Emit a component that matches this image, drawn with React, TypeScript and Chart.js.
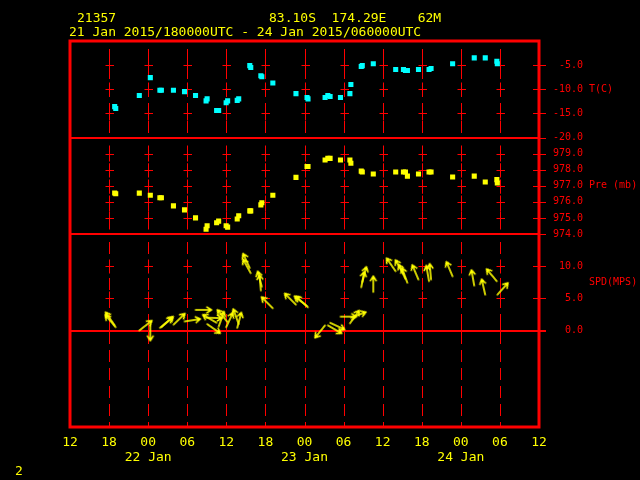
import React, { useEffect, useRef } from "react";
import { Chart, registerables } from "chart.js";

Chart.register(...registerables);

// ---- header text ----
const stationId = "21357";
const stationInfo = "83.10S  174.29E    62M";
const periodLabel = "21 Jan 2015/180000UTC - 24 Jan 2015/060000UTC";
const pageNumber = "2";

// ---- x axis: hours after 21 Jan 2015 12 UTC ----
const xTickHours = [0, 6, 12, 18, 24, 30, 36, 42, 48, 54, 60, 66, 72];
const xTickLabels = ["12", "18", "00", "06", "12", "18", "00", "06", "12", "18", "00", "06", "12"];
const dayLabels = ["22 Jan", "23 Jan", "24 Jan"];

// ---- y axes ----
const tempRange = [-20, 0];
const presRange = [974, 980];
const speedRange = [-15, 15];
const tempTicks = [-20, -15, -10, -5];
const presTicks = [974, 975, 976, 977, 978, 979];
const speedTicks = [0, 5, 10];
const tempTitle = "T(C)";
const presTitle = "Pre (mb)";
const speedTitle = "SPD(MPS)";

// ---- observations ----
const obsHour = [
  6.86, 7.02, 10.64, 12.33, 13.8, 14.03, 15.88, 17.58, 19.27, 20.89, 21.05, 22.51,
  22.82, 23.97, 24.2, 25.67, 25.9, 27.6, 27.75, 29.3, 29.45, 31.14, 34.69, 36.39,
  36.54, 39.16, 39.58, 39.93, 41.52, 42.97, 43.12, 44.71, 44.87, 46.56, 50.0, 51.19,
  51.5, 51.8, 53.5, 55.12, 55.43, 58.74, 62.06, 63.75, 65.53, 65.6,
];
const temperature = [
  -13.6, -14.0, -11.3, -7.6, -10.2, -10.2, -10.2, -10.5, -11.3, -12.4, -12.0, -14.4,
  -14.4, -12.8, -12.4, -12.3, -12.0, -5.1, -5.5, -7.2, -7.4, -8.7, -10.9, -11.7,
  -12.0, -11.7, -11.3, -11.5, -11.7, -10.9, -9.0, -5.3, -5.1, -4.7, -5.9, -5.9,
  -6.1, -6.1, -5.9, -5.9, -5.7, -4.7, -3.5, -3.5, -4.2, -4.7,
];
const pressure = [
  976.55, 976.5, 976.54, 976.41, 976.25, 976.25, 975.75, 975.5, 975.0, 974.3, 974.51, 974.7,
  974.8, 974.51, 974.43, 974.93, 975.13, 975.44, 975.44, 975.81, 975.94, 976.41, 977.52, 978.2,
  978.2, 978.6, 978.7, 978.7, 978.6, 978.6, 978.4, 977.91, 977.85, 977.73, 977.85, 977.85,
  977.85, 977.6, 977.73, 977.85, 977.85, 977.54, 977.6, 977.23, 977.38, 977.17,
];
const windSpeed = [
  0.8, 0.5, 0.0, 0.9, 0.4, 0.5, 0.9, 1.4, 3.2, 2.0, 1.0, 1.2,
  0.6, 0.5, 1.3, 0.4, 1.0, 9.7, 8.9, 6.2, 6.8, 3.45, 4.0, 3.8,
  3.6, 0.8, 0.8, 1.2, 2.15, 1.1, 2.0, 6.7, 7.5, 5.97, 9.2, 8.8,
  8.0, 7.4, 7.9, 7.65, 7.9, 8.4, 6.96, 5.55, 7.65, 5.55,
];
// meteorological direction the wind blows FROM (degrees)
const windDir = [
  145, 140, 232, 0, 230, 228, 226, 261, 270, 272, 305, 120,
  200, 205, 140, 195, 160, 155, 151, 175, 165, 135, 135, 128,
  132, 39, 300, 295, 270, 216, 250, 191, 195, 180, 145, 150,
  155, 160, 157, 170, 175, 157, 170, 167, 140, 222,
];

const RED = "#ff0000";
const YELLOW = "#ffff00";
const CYAN = "#00ffff";
const MONO = "'DejaVu Sans Mono', 'Liberation Mono', monospace";

function makeArrow(len: number): HTMLCanvasElement {
  const size = len * 2 + 4;
  const c = document.createElement("canvas");
  c.width = size;
  c.height = size;
  const g = c.getContext("2d")!;
  const cx = size / 2;
  const cy = size / 2;
  g.strokeStyle = YELLOW;
  g.lineWidth = 1.6;
  g.lineCap = "round";
  const hx = cx;
  const hy = cy - len;
  const bl = 5.5;
  const ang = 0.55;
  g.beginPath();
  g.moveTo(cx, cy);
  g.lineTo(hx, hy);
  g.moveTo(hx, hy);
  g.lineTo(hx - bl * Math.sin(ang), hy + bl * Math.cos(ang));
  g.moveTo(hx, hy);
  g.lineTo(hx + bl * Math.sin(ang), hy + bl * Math.cos(ang));
  g.stroke();
  return c;
}

const fmtTick = (v: any) => Number(v).toFixed(1).padStart(5, " ");

const framePlugin = {
  id: "metFrame",
  beforeDatasetsDraw(chart: any) {
    const ctx = chart.ctx;
    const area = chart.chartArea;
    const xs = chart.scales.x;
    const panels: [any, number[]][] = [
      [chart.scales.yT, tempTicks],
      [chart.scales.yP, presTicks],
      [chart.scales.yW, speedTicks],
    ];
    ctx.save();
    ctx.strokeStyle = RED;
    ctx.lineWidth = 1;
    for (const [s, ticks] of panels) {
      const top = s.top;
      const bottom = s.bottom;
      for (let i = 1; i < xTickHours.length - 1; i++) {
        const px = Math.round(xs.getPixelForValue(xTickHours[i])) + 0.5;
        ctx.setLineDash([12, 6]);
        ctx.lineDashOffset = 0;
        ctx.beginPath();
        ctx.moveTo(px, top + 8);
        ctx.lineTo(px, bottom);
        ctx.stroke();
        ctx.setLineDash([]);
        ctx.beginPath();
        for (const v of ticks) {
          if (v <= s.min || v >= s.max) continue;
          const py = Math.round(s.getPixelForValue(v)) + 0.5;
          ctx.moveTo(px - 4, py);
          ctx.lineTo(px + 4.5, py);
          ctx.moveTo(px, py - 7);
          ctx.lineTo(px, py + 7);
        }
        ctx.stroke();
      }
      ctx.beginPath();
      for (const v of ticks) {
        const py = Math.round(s.getPixelForValue(v)) + 0.5;
        ctx.moveTo(area.right - 6, py);
        ctx.lineTo(area.right + 7, py);
      }
      ctx.stroke();
    }
    // separators and zero line
    ctx.lineWidth = 2;
    ctx.beginPath();
    const yT = chart.scales.yT;
    const yP = chart.scales.yP;
    const yW = chart.scales.yW;
    const sep1 = Math.round(yT.bottom);
    const sep2 = Math.round(yP.bottom);
    const zero = Math.round(yW.getPixelForValue(0));
    ctx.moveTo(area.left, sep1);
    ctx.lineTo(area.right, sep1);
    ctx.moveTo(area.left, sep2);
    ctx.lineTo(area.right, sep2);
    ctx.moveTo(area.left, zero);
    ctx.lineTo(area.right + 7, zero);
    ctx.stroke();
    // frame
    ctx.lineWidth = 3;
    ctx.strokeRect(area.left, area.top, area.right - area.left, area.bottom - area.top);
    ctx.restore();
  },
  afterDraw(chart: any) {
    const ctx = chart.ctx;
    ctx.save();
    ctx.fillStyle = YELLOW;
    ctx.font = `13px ${MONO}`;
    ctx.textBaseline = "alphabetic";
    ctx.textAlign = "left";
    ctx.fillText(stationId, 77, 22);
    ctx.fillText(stationInfo, 269, 22);
    ctx.fillText(periodLabel, 69, 36);
    ctx.fillText(pageNumber, 15, 475);
    // axis titles
    ctx.fillStyle = RED;
    ctx.font = `10px ${MONO}`;
    ctx.textBaseline = "middle";
    const yT = chart.scales.yT;
    const yP = chart.scales.yP;
    const yW = chart.scales.yW;
    ctx.fillText(tempTitle, yT.left + 50, yT.getPixelForValue((tempRange[0] + tempRange[1]) / 2));
    ctx.fillText(presTitle, yP.left + 50, yP.getPixelForValue((presRange[0] + presRange[1]) / 2));
    ctx.fillText(speedTitle, yW.left + 50, yW.getPixelForValue(speedRange[1] / 2));
    ctx.restore();
  },
};

function yAxis(range: number[], ticks: number[], weight: number) {
  return {
    type: "linear" as const,
    position: "right" as const,
    stack: "panels",
    stackWeight: weight,
    min: range[0],
    max: range[1],
    afterBuildTicks: (s: any) => {
      s.ticks = ticks.map((v) => ({ value: v }));
    },
    afterFit: (s: any) => {
      s.width = 101;
    },
    ticks: {
      autoSkip: false,
      color: RED,
      font: { family: MONO, size: 10 },
      padding: 14,
      callback: fmtTick,
    },
    grid: { display: false, drawTicks: false },
    border: { display: false },
  };
}

export default function App() {
  const ref = useRef<HTMLCanvasElement | null>(null);
  useEffect(() => {
    if (!ref.current) return;
    const arrow = makeArrow(16);
    const chart = new Chart(ref.current, {
      type: "scatter",
      data: {
        datasets: [
          {
            label: "T",
            data: obsHour.map((h, i) => ({ x: h, y: temperature[i] })),
            yAxisID: "yT",
            pointStyle: "rect",
            pointRadius: 3.6,
            backgroundColor: CYAN,
            borderWidth: 0,
          },
          {
            label: "Pre",
            data: obsHour.map((h, i) => ({ x: h, y: pressure[i] })),
            yAxisID: "yP",
            pointStyle: "rect",
            pointRadius: 3.6,
            backgroundColor: YELLOW,
            borderWidth: 0,
          },
          {
            label: "SPD",
            data: obsHour.map((h, i) => ({ x: h, y: windSpeed[i] })),
            yAxisID: "yW",
            pointStyle: arrow as any,
            pointRadius: 8,
            pointRotation: (c: any) => (windDir[c.dataIndex] + 180) % 360,
            borderWidth: 0,
          } as any,
        ],
      },
      options: {
        responsive: false,
        animation: false,
        events: [],
        layout: { padding: { left: 70, top: 41, right: 0, bottom: 0 } },
        plugins: {
          legend: { display: false },
          tooltip: { enabled: false },
          title: { display: false },
        },
        scales: {
          x: {
            type: "linear",
            position: "bottom",
            min: xTickHours[0],
            max: xTickHours[xTickHours.length - 1],
            afterBuildTicks: (s: any) => {
              s.ticks = xTickHours.map((v) => ({ value: v }));
            },
            afterFit: (s: any) => {
              s.height = 53;
            },
            ticks: {
              autoSkip: false,
              maxRotation: 0,
              minRotation: 0,
              color: YELLOW,
              padding: 8,
              font: { family: MONO, size: 13, lineHeight: 1.15 },
              callback: (_v: any, i: number) => {
                const lab = xTickLabels[i];
                if (lab === "00") {
                  const n = xTickLabels.slice(0, i + 1).filter((l) => l === "00").length - 1;
                  return [lab, dayLabels[n]];
                }
                return lab;
              },
            },
            grid: { display: false, drawTicks: false },
            border: { display: false },
          },
          yT: yAxis(tempRange, tempTicks, 1),
          yP: yAxis(presRange, presTicks, 1),
          yW: yAxis(speedRange, speedTicks, 2),
        } as any,
      },
      plugins: [framePlugin],
    });
    return () => chart.destroy();
  }, []);
  return (
    <div
      style={{
        position: "fixed",
        left: 0,
        top: 0,
        width: 640,
        height: 480,
        background: "#000",
      }}
    >
      <canvas ref={ref} width={640} height={480} style={{ display: "block" }} />
    </div>
  );
}
